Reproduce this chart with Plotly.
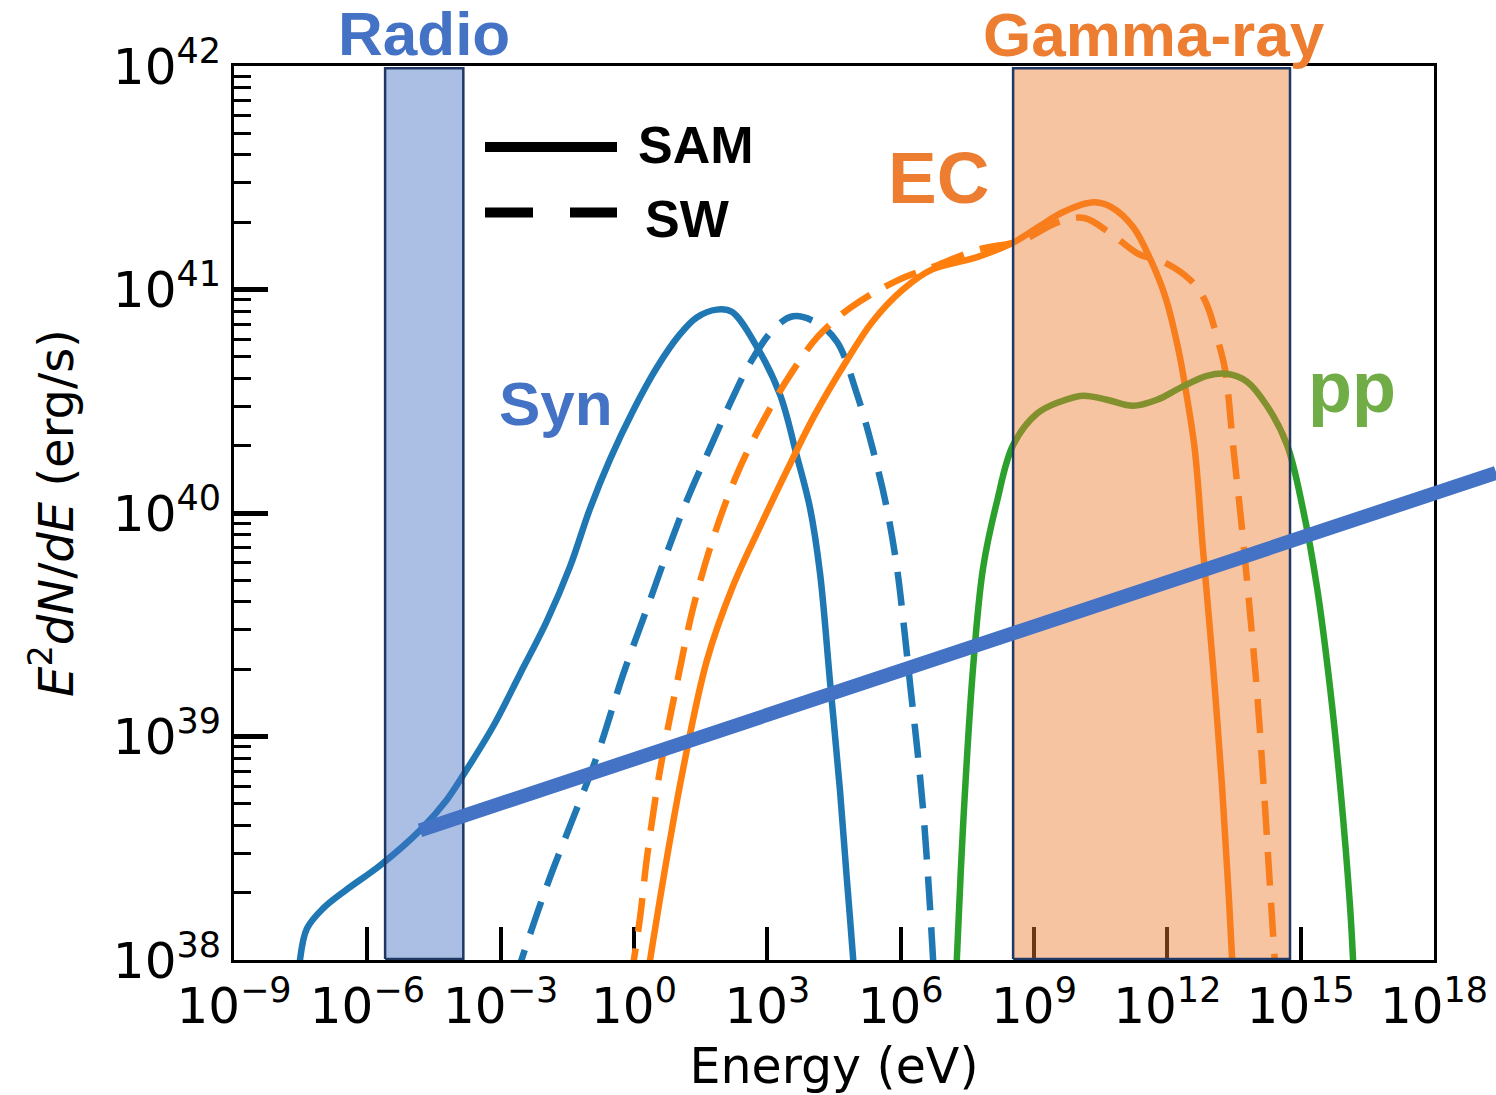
import numpy as np
import plotly.graph_objects as go

# ---------------- data (log10 values) ----------------
syn_sam_logE = [-7.54, -7.515, -7.36, -7.0, -6.46, -5.715, -4.815, -4.214, -3.764, -3.165, -2.564,
                -1.964, -1.44, -0.989, -0.54, -0.015, 0.511, 1.036, 1.412, 1.862, 2.2, 2.762,
                3.286, 3.662, 3.961, 4.186, 4.411, 4.636, 4.787, 4.935, 4.96]
syn_sam_logL = [37.9, 38.0, 38.14, 38.23, 38.316, 38.423, 38.58, 38.716, 38.852, 39.047, 39.28,
                39.515, 39.76, 40.02, 40.24, 40.46, 40.65, 40.80, 40.875, 40.91, 40.90, 40.744,
                40.53, 40.257, 40.022, 39.73, 39.244, 38.756, 38.367, 37.996, 37.9]

syn_sw_logE = [-2.70, -1.964, -1.44, -0.838, -0.24, 0.36, 0.81, 1.26, 1.71, 2.16, 2.61, 3.13, 3.58,
               4.12, 4.57, 5.02, 5.38, 5.69, 5.92, 6.08, 6.22, 6.37, 6.51, 6.64, 6.73, 6.76]
syn_sw_logL = [37.9, 38.33, 38.60, 38.91, 39.28, 39.61, 39.86, 40.09, 40.29, 40.49, 40.67, 40.82, 40.88,
               40.85, 40.765, 40.53, 40.28, 40.02, 39.75, 39.48, 39.22, 38.95, 38.66, 38.30, 38.0, 37.9]

ec_sam_logE = [0.28, 0.743, 1.10, 1.64, 2.22, 2.84, 3.44, 4.07, 4.75, 5.36, 6.05, 6.71, 7.72, 8.53,
               9.14, 9.59, 10.04, 10.37, 10.73, 11.23, 11.63, 11.95, 12.24, 12.44, 12.62, 12.80, 13.03,
               13.23, 13.37, 13.46, 13.48]
ec_sam_logL = [37.9, 38.46, 38.85, 39.34, 39.67, 39.94, 40.19, 40.44, 40.67, 40.855, 41.0, 41.09,
               41.145, 41.21, 41.285, 41.34, 41.378, 41.39, 41.37, 41.28, 41.13, 40.97, 40.74, 40.52,
               40.28, 39.84, 39.31, 38.78, 38.33, 37.996, 37.9]

ec_sw_logE = [-0.08, 0.136, 0.293, 0.586, 0.968, 1.33, 1.78, 2.32, 2.90, 3.51, 4.14, 4.88, 5.92, 6.71,
              7.72, 8.73, 9.53, 10.13, 10.73, 11.34, 11.95, 12.53, 12.85, 13.14, 13.30, 13.48, 13.68,
              13.85, 14.01, 14.16, 14.30, 14.42, 14.45]
ec_sw_logL = [37.9, 38.19, 38.46, 38.85, 39.24, 39.575, 39.886, 40.175, 40.41, 40.617, 40.79, 40.92,
              41.04, 41.10, 41.177, 41.22, 41.30, 41.32, 41.25, 41.16, 41.12, 41.04, 40.95, 40.77,
              40.64, 40.30, 39.93, 39.575, 39.22, 38.80, 38.36, 37.99, 37.9]

pp_logE = [7.24, 7.262, 7.404, 7.63, 7.854, 8.17, 8.53, 9.07, 9.587, 10.10, 10.64, 11.23, 11.77, 12.29,
           12.89, 13.34, 13.79, 14.24, 14.695, 15.05, 15.37, 15.66, 15.89, 16.11, 16.18, 16.20]
pp_logL = [37.9, 37.996, 38.60, 39.31, 39.754, 40.054, 40.304, 40.445, 40.498, 40.525, 40.507, 40.48,
           40.507, 40.56, 40.614, 40.623, 40.588, 40.48, 40.304, 40.019, 39.664, 39.22, 38.776, 38.243,
           37.996, 37.9]

# straight sensitivity-like line (start, end)
line_logE = [-4.815, 19.40]
line_logL = [38.58, 40.18]

# bands (log10 energy limits)
radio_band_logE = [-5.60, -3.84]
gamma_band_logE = [8.53, 14.76]

x_tick_exps = list(range(-9, 19, 3))
y_tick_exps = list(range(38, 43))

# ---------------- figure ----------------
C_SYN = '#1f77b4'
C_EC = '#ff7f0e'
C_PP = '#2ca02c'
C_LINE = '#4472c4'
C_RADIO = '#4472c4'
C_GAMMA = '#ed7d31'
C_PPTXT = '#70ad47'
NAVY = '#1f3864'
DASH = '34px,17px'
LW = 6.5

W, H = 1496, 1095
ML, MR, MT, MB = 234, 0, 66, 135
PLOT_W = 1200
PAPER_W = W - ML - MR
ppd = PLOT_W / 27.0
x2_end = -9 + PAPER_W / ppd


def p(v):
    return [10.0 ** a for a in v]


fig = go.Figure()


def curve(lx, ly, color, dash=None):
    fig.add_trace(go.Scatter(
        x=p(lx), y=p(ly), mode='lines',
        line=dict(color=color, width=LW, dash=dash, shape='spline', smoothing=1.0),
        hoverinfo='skip', showlegend=False, xaxis='x', yaxis='y'))


curve(syn_sam_logE, syn_sam_logL, C_SYN)
curve(syn_sw_logE, syn_sw_logL, C_SYN, DASH)
curve(ec_sam_logE, ec_sam_logL, C_EC)
curve(ec_sw_logE, ec_sw_logL, C_EC, DASH)
curve(pp_logE, pp_logL, C_PP)


def band(lims, rgba):
    x0, x1 = p(lims)
    fig.add_trace(go.Scatter(
        x=[x0, x1, x1, x0, x0], y=[10 ** 38.005, 10 ** 38.005, 10 ** 41.99, 10 ** 41.99, 10 ** 38.005],
        mode='lines', fill='toself', fillcolor=rgba,
        line=dict(color=NAVY, width=2.5), hoverinfo='skip', showlegend=False,
        xaxis='x', yaxis='y'))


band(radio_band_logE, 'rgba(68,114,196,0.45)')
band(gamma_band_logE, 'rgba(237,125,49,0.45)')

fig.add_trace(go.Scatter(
    x=p(line_logE), y=p(line_logL), mode='lines',
    line=dict(color=C_LINE, width=14), hoverinfo='skip', showlegend=False,
    xaxis='x2', yaxis='y2'))


def sup(e):
    s = str(e).replace('-', '\u2212')
    return '10<sup>' + s + '</sup>'


tickfont = dict(family='DejaVu Sans', size=50, color='black')

fig.update_layout(
    width=W, height=H, autosize=False,
    margin=dict(l=ML, r=MR, t=MT, b=MB, pad=0),
    paper_bgcolor='white', plot_bgcolor='rgba(0,0,0,0)',
    showlegend=False,
    xaxis=dict(
        type='log', range=[-9, 18], domain=[0, PLOT_W / PAPER_W], anchor='y', automargin=False,
        tickmode='array', tickvals=[10.0 ** e for e in x_tick_exps],
        ticktext=[sup(e) for e in x_tick_exps],
        ticks='inside', ticklen=33, tickwidth=4, tickcolor='black',
        showline=True, linewidth=3, linecolor='black', mirror=True,
        showgrid=False, zeroline=False, layer='below traces',
        tickfont=tickfont,
        title=dict(text='Energy (eV)', font=dict(family='DejaVu Sans', size=49, color='black'),
                   standoff=15),
    ),
    yaxis=dict(
        type='log', range=[38, 42], domain=[0, 1], anchor='x', automargin=False,
        tickmode='array', tickvals=[10.0 ** e for e in y_tick_exps],
        ticktext=[sup(e) for e in y_tick_exps],
        ticks='inside', ticklen=34, tickwidth=5, tickcolor='black',
        minor=dict(tickmode='array',
                   tickvals=[m * 10.0 ** e for e in range(38, 42) for m in range(2, 10)],
                   ticks='inside', ticklen=17, tickwidth=3, tickcolor='black', showgrid=False),
        showline=True, linewidth=3, linecolor='black', mirror=True,
        showgrid=False, zeroline=False,
        tickfont=tickfont,
        title=dict(text='<i>E</i><sup>2</sup><i>dN</i>/<i>dE</i> (erg/s)',
                   font=dict(family='DejaVu Sans', size=48, color='black'), standoff=25),
    ),
    xaxis2=dict(type='log', range=[-9, x2_end], domain=[0, 1], anchor='y2', visible=False,
                showgrid=False, zeroline=False, automargin=False),
    yaxis2=dict(type='log', range=[38, 42], domain=[0, 1], anchor='x2', visible=False,
                showgrid=False, zeroline=False, automargin=False),
)


def px(xp):
    return (xp - ML) / PAPER_W


def py(yp):
    return (H - MB - yp) / (H - MT - MB)


def label(text, x, y, size, color, xanchor='center'):
    fig.add_annotation(text='<b>' + text + '</b>', x=px(x), y=py(y), xref='paper', yref='paper',
                       xanchor=xanchor, yanchor='middle', showarrow=False,
                       font=dict(family='Liberation Sans', size=size, color=color))


label('Radio', 423.5, 34, 62, C_RADIO)
label('Gamma-ray', 1154, 35, 62, C_GAMMA)
label('EC', 938.5, 177.7, 73, C_GAMMA)
label('Syn', 556, 403.5, 62, C_RADIO)
label('pp', 1351.5, 387, 72, C_PPTXT)
label('SAM', 636, 145, 52, 'black', 'left')
label('SW', 643, 219, 52, 'black', 'left')

# legend keys
fig.add_shape(type='line', xref='paper', yref='paper', x0=px(485), x1=px(617), y0=py(147), y1=py(147),
              line=dict(color='black', width=10))
fig.add_shape(type='line', xref='paper', yref='paper', x0=px(485), x1=px(617), y0=py(212.5), y1=py(212.5),
              line=dict(color='black', width=10, dash='48px,37px'))

fig.write_html('out.html')
